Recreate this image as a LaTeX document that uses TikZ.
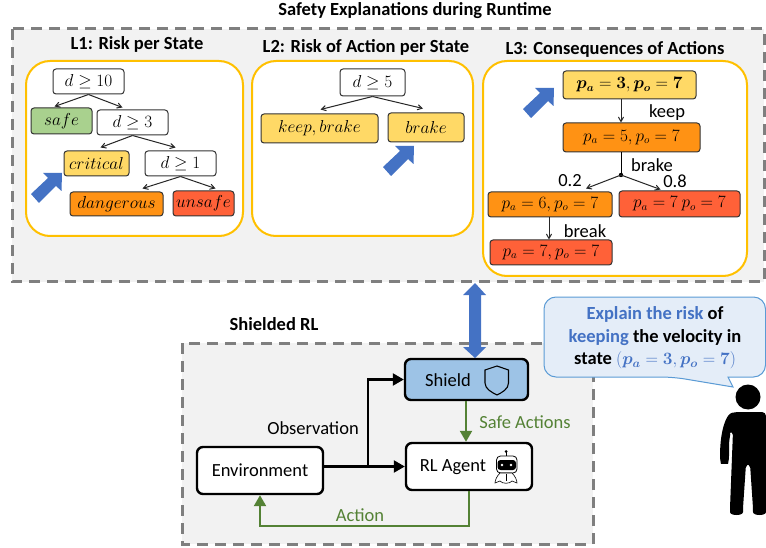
\documentclass[tikz,border=0pt]{standalone}
\usepackage[no-math]{fontspec}
\setmainfont{Carlito}
\usepackage{tikz}
\usetikzlibrary{arrows,arrows.meta,positioning,shapes}
\usepackage{amsmath,amssymb,amsfonts}
\usepackage{xcolor}
\definecolor{panelgray}{HTML}{F2F2F2}
\definecolor{dashgray}{HTML}{7F7F7F}
\definecolor{boxyellow}{HTML}{FFC000}
\definecolor{safegreen}{HTML}{A9D18E}
\definecolor{crityellow}{HTML}{FFD966}
\definecolor{dangorange}{HTML}{FF9214}
\definecolor{unsafered}{HTML}{FF6138}
\definecolor{bluearrow}{HTML}{4472C4}
\definecolor{shieldblue}{HTML}{9DC3E6}
\definecolor{agentgreen}{HTML}{548235}
\definecolor{talkfill}{HTML}{E4EDF8}
\definecolor{talkline}{HTML}{5B9BD5}
\DeclareMathAlphabet{\mathbi}{OML}{cmm}{b}{it}
\newcommand{\posA}{p_{a}}
\newcommand{\posO}{p_{o}}
\newcommand{\bposA}{\mathbi{p}_{\mathbi{a}}}
\newcommand{\bposO}{\mathbi{p}_{\mathbi{o}}}
\newcommand{\fs}[1]{\fontsize{#1}{#1}\selectfont}
\tikzset{
        panel/.style={draw=dashgray,fill=panelgray,line width=3pt,dash pattern=on 11pt off 7pt},
        level/.style={draw=boxyellow,fill=white,line width=2pt,rounded corners=24pt},
        head/.style={font=\fs{18.5}\bfseries,inner sep=0pt},
        tnode/.style={draw=black!80,line width=1pt,rounded corners=3pt,inner sep=0pt,font=\fs{16}},
        lab/.style={font=\fs{18.5},inner sep=0pt},
        bignode/.style={draw=black,line width=2.4pt,rounded corners=6pt,fill=white,inner sep=0pt,font=\fs{18.5}},
        tarrow/.style={-angle 60,black!85,line width=1pt},
        thick arrow/.style={-{Triangle[length=11pt,width=12pt]},line width=2.2pt},
        blockarrow/.style={fill=bluearrow,draw=none},
}
\newcommand{\pointer}[2]{
        \fill[blockarrow,shift={(#1,#2)}] (62,173) -- (61.5,191) -- (56,186) -- (39,203) -- (31,194) -- (48,178) -- (43,173) -- cycle;
}
\begin{document}
\begin{tikzpicture}[x=1pt,y=-1pt]
        \useasboundingbox (0,0) rectangle (766,548);
        \draw[panel] (12,29) rectangle (764,282);
        \draw[panel] (182,343) rectangle (593,544);
        \node[head] (T) at (415,11) {Safety Explanations during Runtime};
        \node[head] (L1) at (137,44.5) {L1: Risk per State};
        \node[head] (L2) at (366,47) {L2: Risk of Action per State};
        \node[head] (L3) at (615,49) {L3: Consequences of Actions};
        \node[head] (SR) at (274,324) {Shielded RL};

        \draw[level] (26,61) rectangle (243,236);
        \draw[level] (252,61) rectangle (473,236);
        \draw[level] (483,61) rectangle (747,276);

        \node[tnode,fill=white,minimum width=71,minimum height=25] (D10) at (88.5,81.5) {$d \geq 10$};
        \node[tnode,fill=safegreen,minimum width=61,minimum height=26] (SF) at (61.5,121) {$safe$};
        \node[tnode,fill=white,minimum width=71,minimum height=25] (D3) at (132.5,122.5) {$d \geq 3$};
        \node[tnode,fill=crityellow,minimum width=65,minimum height=25] (CR) at (96.5,163.5) {$critical$};
        \node[tnode,fill=white,minimum width=71,minimum height=25] (D1) at (180.5,163.5) {$d \geq 1$};
        \node[tnode,fill=dangorange,minimum width=93,minimum height=24] (DG) at (116.5,204) {$dangerous$};
        \node[tnode,fill=unsafered,minimum width=61,minimum height=25] (US) at (203.5,203.5) {$unsafe$};
        \draw[tarrow] (D10.south) -- ([xshift=-7pt,yshift=1pt]SF.north);
        \draw[tarrow] (D10.south) -- ([xshift=-10pt,yshift=2pt]D3.north);
        \draw[tarrow] (D3.south) -- ([xshift=4pt,yshift=3pt]CR.north);
        \draw[tarrow] (D3.south) -- ([xshift=-5pt,yshift=3pt]D1.north);
        \draw[tarrow] (D1.south) -- ([xshift=26pt,yshift=3pt]DG.north);
        \draw[tarrow] (D1.south) -- ([xshift=12pt,yshift=2pt]US.north);
        \pointer{0}{0}

        \node[tnode,fill=white,minimum width=65,minimum height=27] (D5) at (372.5,82.5) {$d \geq 5$};
        \node[tnode,fill=crityellow,minimum width=117,minimum height=29] (KB) at (319.5,128.5) {$keep, brake$};
        \node[tnode,fill=crityellow,minimum width=76,minimum height=29] (BR) at (426,127.5) {$brake$};
        \draw[tarrow] (D5.south) -- ([xshift=1pt,yshift=4pt]KB.north);
        \draw[tarrow] (D5.south) -- ([xshift=-3pt,yshift=4pt]BR.north);
        \pointer{352}{-27}

        \node[tnode,fill=crityellow,minimum width=133,minimum height=28] (P3) at (629.5,85) {$\bposA = \mathbf{3}, \bposO = \mathbf{7}$};
        \node[tnode,fill=dangorange,minimum width=137,minimum height=29] (P5) at (631.5,137.5) {$\posA = 5, \posO = 7$};
        \node[tnode,fill=dangorange,minimum width=124,minimum height=25] (P6) at (550,204.5) {$\posA = 6, \posO = 7$};
        \node[tnode,fill=unsafered,minimum width=121,minimum height=26] (P7R) at (679.5,204) {$\posA = 7~\posO = 7$};
        \node[tnode,fill=unsafered,minimum width=122,minimum height=25] (P7L) at (551,252.5) {$\posA = 7, \posO = 7$};
        \coordinate (B) at (621,175);
        \fill (B) circle (2.2pt);
        \draw[tarrow] ([xshift=-8.5pt]P3.south) -- ([xshift=-10.5pt]P5.north);
        \draw[black,line width=1pt] ([xshift=-10.5pt]P5.south) -- (B);
        \draw[tarrow] (B) -- ([xshift=36pt,yshift=3pt]P6.north);
        \draw[tarrow] (B) -- ([xshift=-19pt,yshift=1pt]P7R.north);
        \draw[tarrow] ([xshift=-1pt]P6.south) -- ([xshift=-2pt]P7L.north);
        \node[lab] (KP) at (667,113) {keep};
        \node[lab] (BK) at (652,165.5) {brake};
        \node[lab] (P02) at (570,181) {0.2};
        \node[lab] (P08) at (675,181) {0.8};
        \node[lab] (BE) at (585,231) {break};
        \pointer{492}{-85}

        \node[bignode,fill=shieldblue,minimum width=123,minimum height=41] (S) at (466.5,379.5) {};
        \node[lab] (SL) at (448,380) {Shield};
        \node[bignode,minimum width=126,minimum height=47] (A) at (469,466.5) {};
        \node[lab] (AL) at (453,467) {RL Agent};
        \node[bignode,minimum width=126,minimum height=47] (E) at (260,470.5) {Environment};
        \node[lab] (O) at (313,428) {Observation};
        \node[lab,agentgreen] (SA) at (525,422) {Safe Actions};
        \node[lab,agentgreen] (AC) at (360,515) {Action};

        \draw[thick arrow] (E.east |- A.west) -- (A.west);
        \coordinate (J) at (368,466.5);
        \draw[thick arrow] (J) |- (S.west);
        \draw[thick arrow,agentgreen] ([xshift=-0.5pt]S.south) -- ([xshift=-3pt]A.north);
        \coordinate (AD) at (469,526);
        \draw[thick arrow,agentgreen] (A.south) |- (AD) -| (E.south);

        \draw[black,line width=1.1pt,fill=none] (497,366) -- (508.5,370) -- (508.5,383) .. controls (508.5,389) and (502,392.5) .. (497,395) .. controls (492,392.5) and (485,389) .. (485,383) -- (485,370) -- cycle;

        \fill (506,451.5) circle (1.5pt);
        \draw[black,line width=0.6pt] (506,451.5) -- (506,456);
        \draw[black,line width=0.8pt,fill=white,rounded corners=4pt] (496.5,456) rectangle (517,473);
        \fill[black,rounded corners=3pt] (497.5,460) rectangle (516,470);
        \fill[white] (502,465) circle (1.4pt) (511,465) circle (1.4pt);
        \draw[black,line width=0.6pt,fill=white] (500,473) .. controls (497,476) and (495,480) .. (495,483) -- (500,481) .. controls (502,484) and (510,484) .. (512,481) -- (517,483) .. controls (517,480) and (515,476) .. (512,473) -- cycle;
        \draw[black,line width=0.5pt] (506,474) -- (506,481);

        \draw[talkline,line width=1pt,fill=talkfill] (673,377) -- (733,387) -- (728,377) [rounded corners=12pt] -- (765.5,377) -- (765.5,297) -- (544,297) -- (544,377) -- cycle;
        \node[font=\fs{18.5}\bfseries,align=center,inner sep=0pt] (Q) at (655,338) {\textcolor{bluearrow}{Explain the risk} of\\[4pt] \textcolor{bluearrow}{keeping} the velocity in\\[4pt] state \textcolor{bluearrow}{\fs{17}$(\bposA = \mathbf{3}, \bposO = \mathbf{7})$}};

        \fill[bluearrow] (475,283) -- (486,295) -- (481,295) -- (481,347) -- (486,347) -- (475,358) -- (463,347) -- (469,347) -- (469,295) -- (463,295) -- cycle;

        \fill (748,397) circle (12.5pt);
        \fill[rounded corners=4pt] (766,412) -- (736,412) .. controls (726,414) and (721,430) .. (720,453) -- (720,460) .. controls (721,464) and (728,464) .. (729,460) -- (729,442) .. controls (730,436) and (731,432) .. (733,431) -- (730,508) .. controls (730,516) and (743,516) .. (743,508) -- (746,464) -- (750,464) -- (753,508) .. controls (753,516) and (766,516) .. (766,508) -- cycle;
\end{tikzpicture}
\end{document}
